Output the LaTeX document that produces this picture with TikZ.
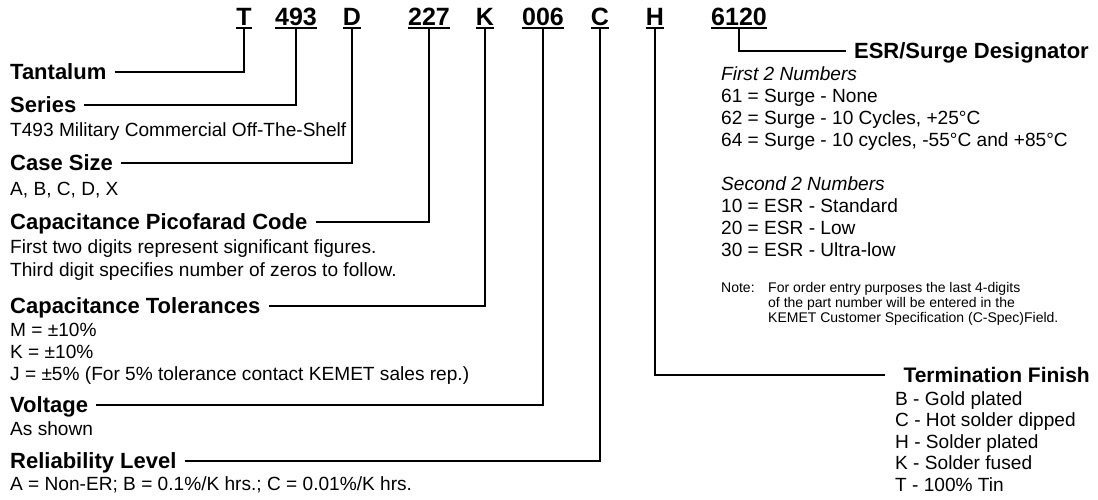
\documentclass[tikz,border=0pt]{standalone}
\usepackage{fontspec}
\setmainfont{Liberation Sans}
\tikzset{
  code/.style={font=\bfseries\fontsize{25}{30}\selectfont,inner sep=0pt,text depth=0pt,anchor=base},
  head/.style={font=\bfseries\fontsize{22}{26}\selectfont,inner sep=0pt,text height=15pt,text depth=0pt,anchor=base west},
  headr/.style={head,anchor=base east},
  body/.style={font=\fontsize{19.1}{23}\selectfont,inner sep=0pt,anchor=base west},
  ital/.style={body,font=\itshape\fontsize{19.1}{23}\selectfont},
  note/.style={font=\fontsize{14}{15}\selectfont,inner sep=0pt,anchor=base west},
  lead/.style={line width=2pt},
  uline/.style={line width=2.4pt},
}
\begin{document}
\begin{tikzpicture}[x=1pt,y=-1pt]
    \useasboundingbox (0,0) rectangle (1098,499);
    % part number
    \node[code] (cT) at (244,25) {T};
    \node[code] (cSer) at (296,25) {493};
    \node[code] (cCase) at (352,25) {D};
    \node[code] (cCap) at (429,25) {227};
    \node[code] (cTol) at (485,25) {K};
    \node[code] (cVolt) at (543,25) {006};
    \node[code] (cRel) at (600,25) {C};
    \node[code] (cTerm) at (655,25) {H};
    \node[code] (cESR) at (739,25) {6120};
    \foreach \c in {cT,cSer,cCase,cCap,cTol,cVolt,cRel,cTerm,cESR}
      \draw[uline] ([yshift=-2.6pt]\c.south west) -- ([yshift=-2.6pt]\c.south east);
    % left column
    \node[head] (tant) at (10,79) {Tantalum};
    \node[head] (ser) at (10,112) {Series};
    \node[body] (ser1) at (10,136) {T493 Military Commercial Off-The-Shelf};
    \node[head] (case) at (10,170) {Case Size};
    \node[body] (case1) at (10,195) {A, B, C, D, X};
    \node[head] (cap) at (10,229) {Capacitance Picofarad Code};
    \node[body] (cap1) at (10,253) {First two digits represent significant figures.};
    \node[body] (cap2) at (10,276) {Third digit specifies number of zeros to follow.};
    \node[head] (tol) at (10,313) {Capacitance Tolerances};
    \node[body] (tol1) at (10,336) {M = ±10\%};
    \node[body] (tol2) at (10,358) {K = ±10\%};
    \node[body] (tol3) at (10,380) {J = ±5\% (For 5\% tolerance contact KEMET sales rep.)};
    \node[head] (volt) at (10,412) {Voltage};
    \node[body] (volt1) at (10,435) {As shown};
    \node[head] (rel) at (10,468) {Reliability Level};
    \node[body] (rel1) at (10,490) {A = Non-ER; B = 0.1\%/K hrs.; C = 0.01\%/K hrs.};
    % right column
    \node[headr] (esr) at (1089,58) {ESR/Surge Designator};
    \node[ital] (esr1) at (721,80) {First 2 Numbers};
    \node[body] (esr2) at (721,102) {61 = Surge - None};
    \node[body] (esr3) at (721,124) {62 = Surge - 10 Cycles, +25°C};
    \node[body] (esr4) at (721,146) {64 = Surge - 10 cycles, -55°C and +85°C};
    \node[ital] (esr5) at (721,190) {Second 2 Numbers};
    \node[body] (esr6) at (721,212) {10 = ESR - Standard};
    \node[body] (esr7) at (721,234) {20 = ESR - Low};
    \node[body] (esr8) at (721,256) {30 = ESR - Ultra-low};
    \node[note] (nlab) at (721,292) {Note:};
    \node[note] (n1) at (768,292) {For order entry purposes the last 4-digits};
    \node[note] (n2) at (768,307) {of\ the part number will be entered in the};
    \node[note] (n3) at (768,322) {KEMET Customer Specification (C-Spec)Field.};
    \node[headr,font=\bfseries\fontsize{21}{25}\selectfont] (term) at (1090,382) {Termination Finish};
    \node[body] (term1) at (895,405) {B - Gold plated};
    \node[body] (term2) at (895,426.5) {C - Hot solder dipped};
    \node[body] (term3) at (895,448) {H - Solder plated};
    \node[body] (term4) at (895,469.5) {K - Solder fused};
    \node[body] (term5) at (895,491) {T - 100\% Tin};
    % leaders
    \draw[lead] ([xshift=8pt]tant.east) -| ([yshift=-2.6pt]cT.south);
    \draw[lead] ([xshift=8pt]ser.east) -| ([yshift=-2.6pt]cSer.south);
    \draw[lead] ([xshift=8pt]case.east) -| ([yshift=-2.6pt]cCase.south);
    \draw[lead] ([xshift=8pt]cap.east) -| ([yshift=-2.6pt]cCap.south);
    \draw[lead] ([xshift=8pt]tol.east) -| ([yshift=-2.6pt]cTol.south);
    \draw[lead] ([xshift=8pt]volt.east) -| ([yshift=-2.6pt]cVolt.south);
    \draw[lead] ([xshift=8pt]rel.east) -| ([yshift=-2.6pt]cRel.south);
    \draw[lead] ([yshift=-2.6pt]cESR.south) |- ([xshift=-8pt]esr.west);
    \draw[lead] ([yshift=-2.6pt]cTerm.south) |- ([xshift=-18pt]term.west);
\end{tikzpicture}
\end{document}
